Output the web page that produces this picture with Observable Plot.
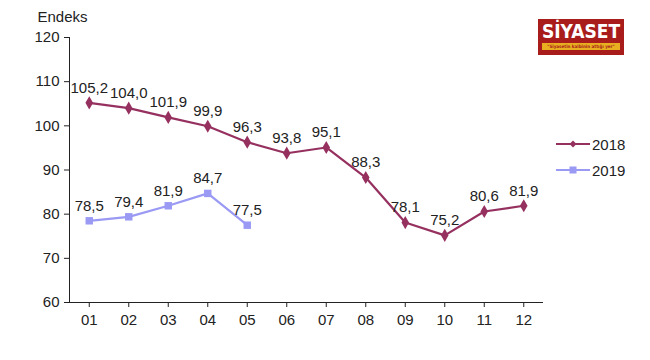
<!DOCTYPE html>
<html><head><meta charset="utf-8">
<script src="https://cdn.jsdelivr.net/npm/d3@7"></script>
<script src="https://cdn.jsdelivr.net/npm/@observablehq/plot@0.6"></script>
<style>
body{margin:0;background:#fff;font-family:"Liberation Sans",Arial,sans-serif;}
#wrap{position:relative;width:650px;height:360px;}
#legend{position:absolute;left:556px;top:131px;font-size:15px;color:#222;}
#legend div{display:flex;align-items:center;height:26px;}
#logo{position:absolute;left:538px;top:19px;width:86px;height:36px;background:#a81c1c;color:#fff;font-weight:bold;font-size:19px;line-height:24px;text-align:center;font-family:"DejaVu Sans Condensed","Liberation Sans",sans-serif;white-space:nowrap;}
#logo .t{display:block;font-size:4.5px;line-height:7px;background:#e8b020;color:#a81c1c;margin:0 4px;white-space:nowrap;}
</style></head>
<body><div id="wrap"><div id="chart"></div>
<div id="logo">SİYASET<span class="t">"Siyasetin kalbinin attığı yer"</span></div>
<div id="legend"></div></div>
<script>
const months = ["01","02","03","04","05","06","07","08","09","10","11","12"];
const series2018 = [105.2,104.0,101.9,99.9,96.3,93.8,95.1,88.3,78.1,75.2,80.6,81.9];
const series2019 = [78.5,79.4,81.9,84.7,77.5];
const yTicks = [60,70,80,90,100,110,120];
const c2018 = "#95305f", c2019 = "#9a9af5";

const d18 = series2018.map((v,i)=>({m:i+1,v}));
const d19 = series2019.map((v,i)=>({m:i+1,v}));
const fmt = v => v.toFixed(1).replace(".", ",");

const plot = Plot.plot({
  width:650, height:360,
  marginLeft:69, marginRight:107, marginTop:37, marginBottom:58,
  style:{fontFamily:"Liberation Sans, Arial, sans-serif", fontSize:"15px", color:"#222"},
  x:{type:"linear", domain:[0.5,12.5], axis:null},
  y:{type:"linear", domain:[60,120], axis:null},
  marks:[
    Plot.ruleX([0.5],{stroke:"#222"}),
    Plot.ruleY([60],{stroke:"#222"}),
    Plot.axisY({ticks:yTicks, tickSize:5, tickPadding:5, fontSize:15, stroke:"#222", fill:"#222", label:null}),
    Plot.axisX({ticks:d3.range(1,13), tickFormat:d=>months[d-1], tickSize:5, tickPadding:7, fontSize:15, stroke:"#222", fill:"#222", label:null}),
    Plot.lineY(d18,{x:"m",y:"v",stroke:c2018,strokeWidth:2.2}),
    Plot.dot(d18,{x:"m",y:"v",fill:c2018,symbol:"diamond",r:4}),
    Plot.text(d18,{x:"m",y:"v",text:d=>fmt(d.v),dy:-15,fontSize:15,fill:"#222"}),
    Plot.lineY(d19,{x:"m",y:"v",stroke:c2019,strokeWidth:2.2}),
    Plot.dot(d19,{x:"m",y:"v",fill:c2019,symbol:"square",r:4.2}),
    Plot.text(d19,{x:"m",y:"v",text:d=>fmt(d.v),dy:-15,fontSize:15,fill:"#222"}),
    Plot.text(["Endeks"],{frameAnchor:"top-left",dx:-32,dy:-26,fontSize:15,fill:"#222",textAnchor:"start"})
  ]
});
document.getElementById("chart").appendChild(plot);

const lg = document.getElementById("legend");
[["2018",c2018,"diamond"],["2019",c2019,"square"]].forEach(([t,c,s])=>{
  const marker = s==="diamond"
    ? `<path d="M17 1.5 L20.5 5 L17 8.5 L13.5 5 Z" fill="${c}"/>`
    : `<rect x="13.5" y="1.5" width="7" height="7" fill="${c}"/>`;
  lg.insertAdjacentHTML("beforeend",
    `<div><svg width="36" height="10"><line x1="0" x2="34" y1="5" y2="5" stroke="${c}" stroke-width="2"/>${marker}</svg><span>${t}</span></div>`);
});
</script></body></html>
